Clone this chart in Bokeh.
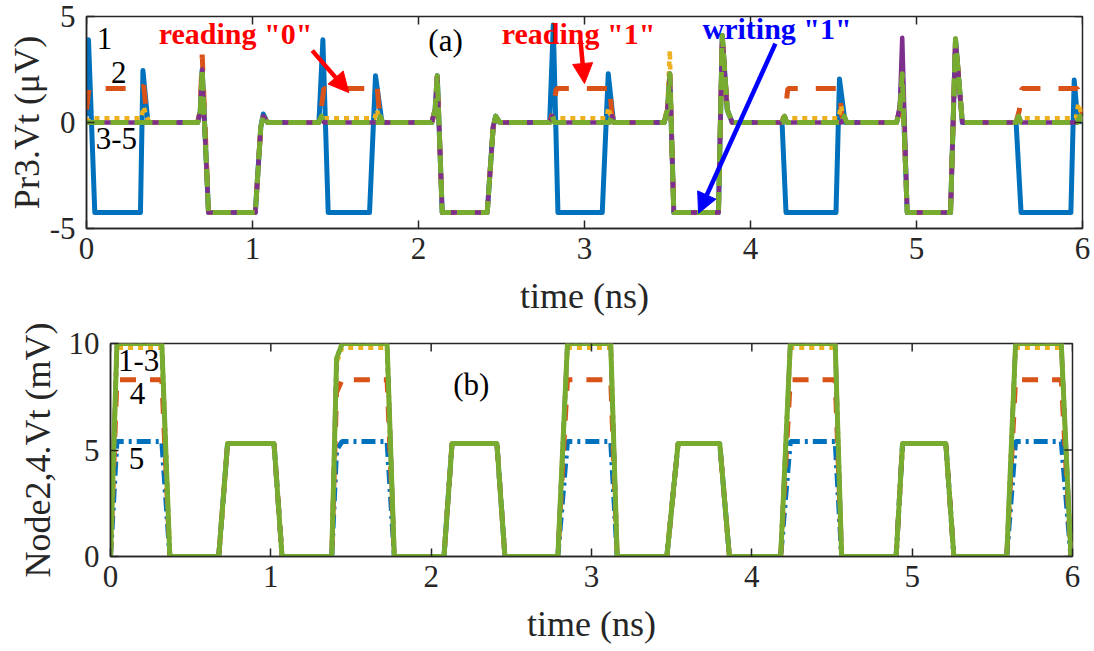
import math
from bokeh.plotting import figure
from bokeh.models import Label, Arrow, NormalHead, FixedTicker, Range1d
from bokeh.embed import file_html
from bokeh.resources import INLINE

FONT = "Liberation Serif"
C_BLUE = "#0072BD"
C_ORANGE = "#D95319"
C_YELLOW = "#EDB120"
C_PURPLE = "#7E2F8E"
C_GREEN = "#77AC30"
C_AXIS = "#262626"

# ---------------- (a) Pr3.Vt in microvolts ----------------
t_a_1 = [0.000, 0.012, 0.05, 0.325, 0.34, 0.37, 0.67, 0.685, 0.697, 0.735, 1.017, 1.05, 1.065, 1.09,
         1.40, 1.424, 1.456, 1.705, 1.741, 1.78, 2.08, 2.10, 2.113, 2.143, 2.414, 2.45, 2.465, 2.49,
         2.79, 2.812, 2.84, 3.107, 3.143, 3.175, 3.48, 3.50, 3.514, 3.538, 3.807, 3.83, 3.86, 3.89,
         4.19, 4.214, 4.515, 4.536, 4.57, 4.88, 4.90, 4.914, 4.944, 5.205, 5.235, 5.276,
         5.60, 5.63, 5.93, 5.95, 5.97, 6.00]
v_a_1 = [0.3, 3.9, -4.25, -4.25, 2.45, 0.0, 0.0, 0.5, 2.5, -4.25, -4.25, -0.2, 0.4, 0.0,
         0.0, 3.9, -4.25, -4.25, 2.2, 0.0, 0.0, 0.6, 2.2, -4.25, -4.25, -0.2, 0.3, 0.0,
         0.0, 4.6, -4.25, -4.25, 2.3, 0.0, 0.0, 0.6, 2.3, -4.25, -4.25, 4.1, 0.6, 0.0,
         0.0, -4.25, -4.25, 2.05, 0.0, 0.0, 0.6, 2.3, -4.25, -4.25, 3.9, 0.0,
         0.0, -4.25, -4.25, 2.0, 0.2, 0.0]

t_a_2 = [0.000, 0.015, 0.33, 0.345, 0.36, 0.38, 0.67, 0.685, 0.697, 0.735, 1.017, 1.05, 1.065, 1.09,
         1.39, 1.41, 1.43, 1.74, 1.75, 1.765, 1.785, 2.08, 2.10, 2.113, 2.143, 2.414, 2.45, 2.465, 2.49,
         2.79, 2.81, 2.83, 3.14, 3.15, 3.165, 3.18, 3.48, 3.50, 3.514, 3.538, 3.807, 3.83, 3.86, 3.89,
         4.19, 4.21, 4.225, 4.535, 4.55, 4.57, 4.88, 4.90, 4.914, 4.944, 5.205, 5.235, 5.276,
         5.60, 5.62, 5.635, 5.97, 5.985, 6.00]
v_a_2 = [0.6, 1.6, 1.6, 1.75, 0.5, 0.0, 0.0, 0.6, 3.2, -4.25, -4.25, -0.2, 0.3, 0.0,
         0.0, 0.4, 1.6, 1.6, 1.75, 0.4, 0.0, 0.0, 0.6, 2.2, -4.25, -4.25, -0.2, 0.3, 0.0,
         0.0, 0.5, 1.6, 1.6, 1.75, 0.4, 0.0, 0.0, 0.6, 2.3, -4.25, -4.25, 4.1, 0.6, 0.0,
         0.0, 0.6, 1.6, 1.6, 0.3, 0.0, 0.0, 0.6, 2.3, -4.25, -4.25, 3.9, 0.0,
         0.0, 0.6, 1.6, 1.6, 1.2, 0.4]

t_a_3 = [0.000, 0.02, 0.33, 0.345, 0.36, 0.38, 0.67, 0.685, 0.697, 0.735, 1.017, 1.05, 1.065, 1.09,
         1.39, 1.42, 1.735, 1.75, 1.77, 2.08, 2.10, 2.113, 2.143, 2.414, 2.45, 2.465, 2.49,
         2.79, 2.81, 3.13, 3.145, 3.17, 3.48, 3.50, 3.514, 3.538, 3.807, 3.83, 3.86, 3.89,
         4.19, 4.21, 4.53, 4.545, 4.57, 4.88, 4.90, 4.914, 4.944, 5.205, 5.235, 5.276,
         5.60, 5.62, 5.96, 5.975, 6.00]
v_a_3 = [0.0, 0.2, 0.2, 0.75, 0.3, 0.0, 0.0, 0.5, 2.5, -4.25, -4.25, -0.2, 0.3, 0.0,
         0.0, 0.2, 0.2, 0.6, 0.0, 0.0, 0.6, 2.2, -4.25, -4.25, -0.2, 0.3, 0.0,
         0.0, 0.2, 0.2, 0.7, 0.0, 0.0, 0.8, 3.4, -4.25, -4.25, 4.1, 0.6, 0.0,
         0.0, 0.2, 0.2, 0.8, 0.0, 0.0, 0.6, 2.3, -4.25, -4.25, 3.9, 0.0,
         0.0, 0.2, 0.2, 0.9, 0.2]

t_a_45 = [0.00, 0.67, 0.685, 0.697, 0.735, 1.017, 1.05, 1.065, 1.09,
          1.40, 1.415, 1.43, 1.76, 1.77, 1.785, 2.08, 2.10, 2.113, 2.143, 2.414, 2.45, 2.465, 2.49,
          2.79, 2.805, 2.82, 3.15, 3.165, 3.18, 3.48, 3.50, 3.514, 3.538, 3.807, 3.83, 3.86, 3.89,
          4.19, 4.205, 4.22, 4.55, 4.565, 4.58, 4.88, 4.90, 4.914, 4.944, 5.205, 5.235, 5.276,
          5.60, 5.615, 5.63, 5.97, 5.985, 6.00]
v_a_4 = [0.0, 0.0, 0.5, 2.5, -4.25, -4.25, -0.2, 0.3, 0.0,
         0.0, 0.3, 0.0, 0.0, 0.3, 0.0, 0.0, 0.6, 2.2, -4.25, -4.25, -0.2, 0.3, 0.0,
         0.0, 0.3, 0.0, 0.0, 0.3, 0.0, 0.0, 0.6, 2.3, -4.25, -4.25, 4.1, 0.6, 0.0,
         0.0, 0.3, 0.0, 0.0, 0.3, 0.0, 0.0, 0.8, 4.0, -4.25, -4.25, 3.95, 0.0,
         0.0, 0.3, 0.0, 0.0, 0.3, 0.0]
v_a_5 = [0.0, 0.0, 0.5, 2.5, -4.25, -4.25, -0.2, 0.3, 0.0,
         0.0, 0.3, 0.0, 0.0, 0.3, 0.0, 0.0, 0.6, 2.2, -4.25, -4.25, -0.2, 0.3, 0.0,
         0.0, 0.3, 0.0, 0.0, 0.3, 0.0, 0.0, 0.6, 2.3, -4.25, -4.25, 4.1, 0.6, 0.0,
         0.0, 0.3, 0.0, 0.0, 0.3, 0.0, 0.0, 0.6, 2.3, -4.25, -4.25, 3.95, 0.0,
         0.0, 0.3, 0.0, 0.0, 0.3, 0.0]

# ---------------- (b) Node2,4.Vt in millivolts ----------------
t_b = [0.0, 0.04, 0.32, 0.37, 0.675, 0.73, 1.02, 1.07, 1.38, 1.41, 1.445, 1.725, 1.77,
       2.08, 2.13, 2.41, 2.46, 2.79, 2.85, 3.12, 3.16, 3.47, 3.54, 3.80, 3.86,
       4.18, 4.24, 4.52, 4.56, 4.90, 4.94, 5.21, 5.26, 5.59, 5.645, 5.93, 5.99]
v_b_1 = [0, 10, 10, 0, 0, 5.3, 5.3, 0, 0, 9.3, 10, 10, 0,
         0, 5.3, 5.3, 0, 0, 10, 10, 0, 0, 5.3, 5.3, 0,
         0, 10, 10, 0, 0, 5.3, 5.3, 0, 0, 10, 10, 0]
v_b_3 = [0, 9.8, 9.8, 0, 0, 5.3, 5.3, 0, 0, 9.1, 9.8, 9.8, 0,
         0, 5.3, 5.3, 0, 0, 9.8, 9.8, 0, 0, 5.3, 5.3, 0,
         0, 9.8, 9.8, 0, 0, 5.3, 5.3, 0, 0, 9.8, 9.8, 0]
v_b_4 = [0, 8.3, 8.3, 0, 0, 5.3, 5.3, 0, 0, 7.7, 8.3, 8.3, 0,
         0, 5.3, 5.3, 0, 0, 8.3, 8.3, 0, 0, 5.3, 5.3, 0,
         0, 8.3, 8.3, 0, 0, 5.3, 5.3, 0, 0, 8.3, 8.3, 0]
v_b_5 = [0, 5.4, 5.4, 0, 0, 5.3, 5.3, 0, 0, 5.0, 5.4, 5.4, 0,
         0, 5.3, 5.3, 0, 0, 5.4, 5.4, 0, 0, 5.3, 5.3, 0,
         0, 5.4, 5.4, 0, 0, 5.3, 5.3, 0, 0, 5.4, 5.4, 0]

x_ticks = [0, 1, 2, 3, 4, 5, 6]
y_ticks_a = [-5, 0, 5]
y_ticks_b = [0, 5, 10]


def style(p, xticks, yticks, xlabel, ylabel, ylabel_standoff):
    p.outline_line_color = C_AXIS
    p.outline_line_width = 1.5
    p.xgrid.visible = False
    p.ygrid.visible = False
    for ax in (p.xaxis[0], p.yaxis[0]):
        ax.axis_label_text_font = FONT
        ax.axis_label_text_font_style = "normal"
        ax.axis_label_text_font_size = "36px"
        ax.axis_label_text_color = C_AXIS
        ax.major_label_text_font = FONT
        ax.major_label_text_font_size = "31px"
        ax.major_label_text_color = C_AXIS
        ax.axis_line_color = C_AXIS
        ax.axis_line_width = 1.5
        ax.major_tick_in = 8
        ax.major_tick_out = 0
        ax.major_tick_line_color = C_AXIS
        ax.major_tick_line_width = 1.5
        ax.minor_tick_line_color = None
    p.xaxis[0].ticker = FixedTicker(ticks=xticks)
    p.yaxis[0].ticker = FixedTicker(ticks=yticks)
    p.xaxis[0].axis_label = xlabel
    p.yaxis[0].axis_label = ylabel
    p.xaxis[0].major_label_standoff = 9
    p.yaxis[0].major_label_standoff = 11
    p.xaxis[0].axis_label_standoff = 14
    p.yaxis[0].axis_label_standoff = ylabel_standoff
    p.yaxis[0].major_label_overrides = {t: str(t) for t in yticks}
    # inward ticks mirrored on the top and right edges of the box (half clipped by the frame)
    x1 = p.x_range.end
    y1 = p.y_range.end
    p.scatter(xticks, [y1] * len(xticks), marker="dash", size=16, angle=math.pi / 2,
              line_color=C_AXIS, line_width=1.5)
    p.scatter([x1] * len(yticks), yticks, marker="dash", size=16,
              line_color=C_AXIS, line_width=1.5)


def label(p, x, y, text, size="31px", color="black", bold=False):
    p.add_layout(Label(x=x, y=y, text=text, text_font=FONT, text_font_size=size,
                       text_color=color, text_align="center", text_baseline="middle",
                       text_font_style="bold" if bold else "normal"))


def arrow(p, xs, ys, xe, ye, color):
    p.add_layout(Arrow(end=NormalHead(size=20, fill_color=color, line_color=color),
                       x_start=xs, y_start=ys, x_end=xe, y_end=ye,
                       line_color=color, line_width=4.5))


# ---------------- top panel ----------------
pa = figure(width=1094, height=320, output_backend="svg", toolbar_location=None,
            x_range=Range1d(0, 6), y_range=Range1d(-5, 5),
            min_border_left=86, min_border_right=12, min_border_top=16, min_border_bottom=92,
            background_fill_color="white", border_fill_color="white")
pa.line(t_a_1, v_a_1, line_color=C_BLUE, line_width=5, line_join="round")
pa.line(t_a_2, v_a_2, line_color=C_ORANGE, line_width=5, line_dash="20 18")
pa.line(t_a_3, v_a_3, line_color=C_YELLOW, line_width=4.5, line_dash="5 5")
pa.line(t_a_45, v_a_4, line_color=C_PURPLE, line_width=4.5, line_join="round")
pa.line(t_a_45, v_a_5, line_color=C_GREEN, line_width=5, line_dash="18 6", line_join="round")
style(pa, x_ticks, y_ticks_a, "time (ns)", "Pr3.Vt (μV)", 0)

label(pa, 0.108, 3.95, "1")
label(pa, 0.195, 2.35, "2")
label(pa, 0.18, -0.75, "3-5")
label(pa, 2.163, 3.86, "(a)")
label(pa, 0.898, 4.2, 'reading "0"', size="30px", color="#FF0000", bold=True)
label(pa, 2.964, 4.2, 'reading "1"', size="30px", color="#FF0000", bold=True)
label(pa, 4.16, 4.45, 'writing "1"', size="30px", color="#0000FF", bold=True)
arrow(pa, 1.36, 3.39, 1.58, 1.41, "#FF0000")
arrow(pa, 2.976, 3.86, 3.0, 1.84, "#FF0000")
arrow(pa, 4.15, 3.72, 3.687, -4.28, "#0000FF")

# ---------------- bottom panel ----------------
pb = figure(width=1094, height=331, output_backend="svg", toolbar_location=None,
            x_range=Range1d(0, 6), y_range=Range1d(0, 10),
            min_border_left=110, min_border_right=22, min_border_top=23, min_border_bottom=95,
            background_fill_color="white", border_fill_color="white")
pb.line(t_b, v_b_5, line_color=C_BLUE, line_width=5, line_dash="14 5 3 5")
pb.line(t_b, v_b_4, line_color=C_ORANGE, line_width=5, line_dash="16 14")
pb.line(t_b, v_b_3, line_color=C_YELLOW, line_width=4.5, line_dash="5 5")
pb.line(t_b, v_b_1, line_color=C_PURPLE, line_width=4.5, line_dash="14 5 3 5")
pb.line(t_b, v_b_1, line_color=C_GREEN, line_width=5, line_join="round")
style(pb, x_ticks, y_ticks_b, "time (ns)", "Node2,4.Vt (mV)", 8)

label(pb, 0.175, 9.2, "1-3")
label(pb, 0.168, 7.65, "4")
label(pb, 0.162, 4.6, "5")
label(pb, 2.25, 8.07, "(b)")

# the two panels are written as separate roots so their frames are laid out independently
open("out.html", "w").write(file_html([pa, pb], INLINE))
